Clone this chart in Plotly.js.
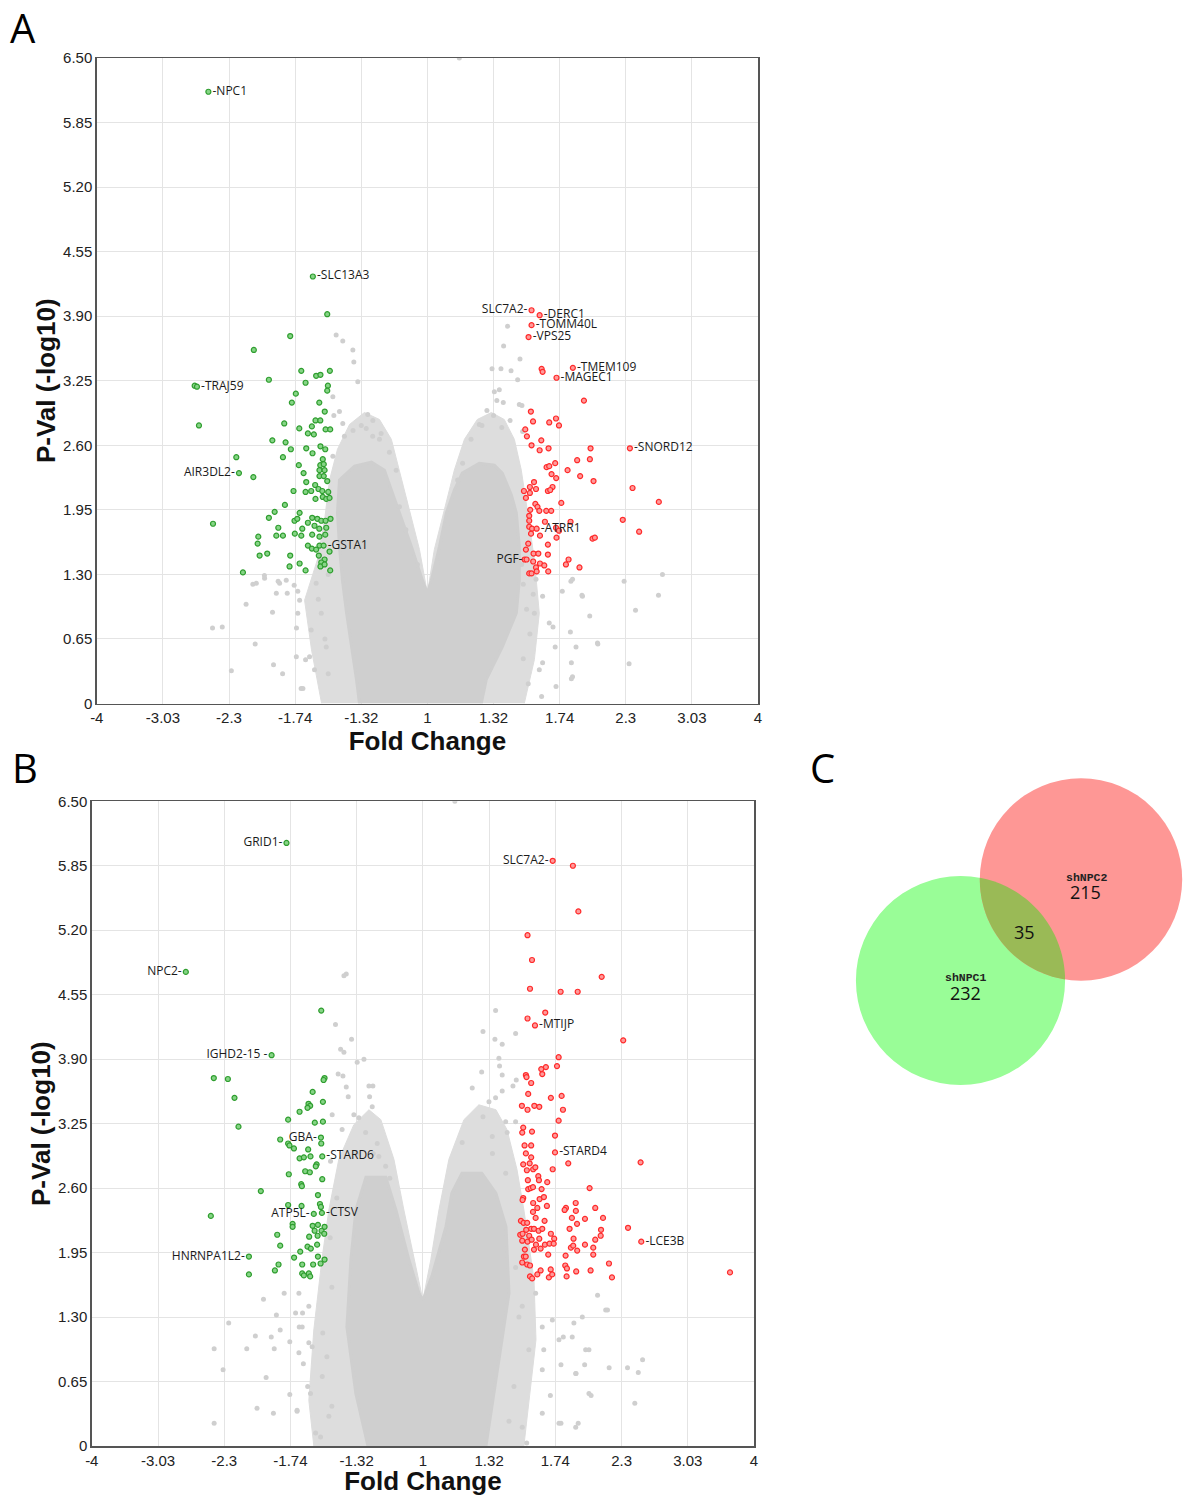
<!DOCTYPE html>
<html><head><meta charset="utf-8">
<script src="https://cdn.plot.ly/plotly-3.0.1.min.js"></script>
<style>html,body{margin:0;padding:0;background:#fff}#chart{width:1183px;height:1496px}</style>
</head><body><div id="chart"></div>
<script>
// ---------- axis ticks (x axis is log2 fold change, labelled as fold change) ----------
const xTickVals = [-2, -1.6, -1.2, -0.8, -0.4, 0, 0.4, 0.8, 1.2, 1.6, 2];
const xTickText = ['-4', '-3.03', '-2.3', '-1.74', '-1.32', '1', '1.32', '1.74', '2.3', '3.03', '4'];
const yTickVals = [0, 0.65, 1.3, 1.95, 2.6, 3.25, 3.9, 4.55, 5.2, 5.85, 6.5];
const yTickText = ['0', '0.65', '1.30', '1.95', '2.60', '3.25', '3.90', '4.55', '5.20', '5.85', '6.50'];

// ---------- Panel A ----------
// envelope of the thinly scattered non-significant genes
const outerA_fc = [-0.640,-0.701,-0.743,-0.665,-0.622,-0.592,-0.544,-0.471,-0.381,-0.290,-0.218,-0.169,-0.109,-0.048,0,0.042,0.103,0.163,0.224,0.302,0.387,0.465,0.526,0.568,0.604,0.647,0.677,0.647,0.586];
const outerA_p  = [0,0.54,1.04,1.45,1.85,2.25,2.56,2.81,2.93,2.86,2.66,2.35,1.95,1.55,1.11,1.55,1.95,2.35,2.66,2.86,2.93,2.86,2.66,2.35,1.95,1.45,0.91,0.44,0];
// envelope of the dense non-significant core
const coreA_fc = [-0.411,-0.429,-0.489,-0.514,-0.532,-0.544,-0.532,-0.441,-0.338,-0.260,-0.218,-0.169,-0.097,-0.030,0,0.024,0.073,0.115,0.163,0.211,0.314,0.405,0.453,0.508,0.538,0.556,0.556,0.538,0.453,0.356,0.326];
const coreA_p  = [0,0.24,0.91,1.24,1.58,1.92,2.25,2.39,2.43,2.35,2.15,1.92,1.58,1.24,1.11,1.24,1.58,1.92,2.15,2.32,2.42,2.40,2.32,2.10,1.92,1.58,1.24,0.91,0.57,0.24,0];
// scattered non-significant genes
const grayA_fc = [
-0.552,-0.512,-0.451,-0.445,-0.421,-0.532,-0.361,-0.512,-0.331,-0.572,
-0.502,-0.572,-0.230,-0.189,-0.169,-0.566,-0.370,-0.290,-0.40,-0.33,
-0.45,-0.28,
-1.035,-0.985,-0.854,-0.894,-0.784,-0.914,
-0.753,-0.683,-0.703,-0.793,-0.773,-0.673,-0.784,-0.642,-0.713,-0.612,
-1.300,-1.241,-1.186,-1.042,-1.097,-1.056,-0.986,-0.937,-0.931,-0.876,
-0.848,-0.903,-0.806,-0.792,-0.764,-0.737,
-0.62,-0.60,-0.63,-0.60,-0.66,-0.62,-0.60,-0.65,
-0.06,0.06,-0.13,0.12,
0.485,0.461,0.560,0.391,0.445,0.506,0.546,0.435,0.405,0.556,
0.572,0.459,0.314,0.264,0.213,0.183,0.576,0.33,0.40,0.45,
0.36,0.50,0.42,
1.422,1.398,1.190,0.935,0.868,
0.657,0.697,0.737,0.878,0.899,0.938,1.029,0.778,0.697,0.878,0.647,
1.259,1.220,1.031,0.871,0.871,0.982,0.865,0.816,0.773,0.760,0.677,0.691,
0.58,0.60,0.62,0.58,0.61,0.64,0.57,
0.193];
const grayA_p = [
3.71,3.65,3.56,3.44,3.24,2.94,2.91,2.82,2.69,3.09,
2.69,2.49,2.53,2.35,1.98,2.90,2.77,2.66,2.80,2.85,
2.75,2.72,
1.21,1.26,1.24,1.21,1.13,1.11,
0.15,0.34,0.74,0.47,1.04,1.21,0.91,0.91,0.47,0.57,
0.76,0.77,0.33,0.60,1.00,1.20,1.29,0.92,0.39,0.30,
1.11,1.23,1.19,0.76,0.15,0.44,
1.70,2.05,2.30,1.30,1.05,0.65,0.30,1.45,
1.40,1.42,1.75,1.80,
3.80,3.60,3.47,3.37,3.37,3.35,3.26,3.16,3.14,3.01,
3.00,3.03,2.81,2.66,2.42,2.25,2.74,2.80,2.90,2.78,
2.95,2.85,3.05,
1.30,1.09,1.23,1.09,1.23,
1.25,1.08,0.81,0.27,0.57,1.08,0.61,0.17,0.41,1.25,0.91,
0.94,0.40,0.60,0.41,0.25,0.88,0.72,1.13,0.57,0.77,0.34,0.07,
1.20,0.95,0.70,0.45,0.20,1.10,1.40,
6.5];
// down-regulated (green)
const downA_fc = [
-0.606,-0.830,-1.050,-0.763,-0.673,-0.647,-0.590,-0.959,-1.408,-0.737,
-0.602,-0.606,-0.796,-0.820,-0.654,-0.621,-1.382,-0.866,-0.775,-0.677,
-0.648,-0.699,-0.616,-0.588,-0.723,-0.687,-0.938,-0.858,-0.826,-0.733,
-0.695,-0.647,-0.618,-1.156,-0.874,-0.633,-0.778,-0.648,-0.627,-0.749,
-0.653,-0.622,-1.053,-0.733,-0.653,-0.627,-0.606,-0.810,-0.737,-0.703,
-0.679,-0.659,-0.636,-0.600,-0.677,-0.633,-0.612,-0.592,-0.862,-0.924,
-0.959,-0.804,-0.773,-0.787,-0.697,-0.666,-0.642,-0.616,-0.586,-1.297,
-0.723,-0.902,-0.757,-0.683,-0.654,-0.612,-0.802,-0.914,-0.874,-0.763,
-0.697,-0.653,-0.618,-1.023,-1.027,-0.723,-0.699,-0.653,-0.673,-0.592,
-1.015,-0.969,-0.830,-0.657,-0.622,-0.642,-0.834,-0.773,-0.647,-0.622,
-0.737,-0.588,-1.116];
const downA_p = [
3.92,3.70,3.56,3.35,3.30,3.31,3.35,3.26,3.20,3.23,
3.20,3.15,3.12,3.03,3.03,2.94,2.80,2.82,2.77,2.85,
2.85,2.79,2.76,2.76,2.72,2.71,2.65,2.63,2.56,2.57,
2.52,2.59,2.56,2.48,2.48,2.46,2.40,2.40,2.41,2.32,
2.35,2.35,2.28,2.23,2.29,2.29,2.24,2.14,2.13,2.14,
2.20,2.16,2.14,2.13,2.06,2.08,2.06,2.07,2.00,1.93,
1.87,1.84,1.92,1.86,1.87,1.86,1.84,1.84,1.86,1.81,
1.82,1.77,1.76,1.79,1.76,1.77,1.71,1.69,1.69,1.69,
1.70,1.68,1.70,1.68,1.61,1.59,1.56,1.59,1.55,1.53,
1.49,1.51,1.49,1.49,1.45,1.42,1.38,1.41,1.38,1.40,
1.34,1.34,1.32];
// up-regulated (red)
const upA_fc = [
0.691,0.697,0.947,0.626,0.639,0.737,0.778,0.796,0.592,0.602,
0.689,0.630,0.679,0.733,0.987,0.906,0.983,0.721,0.737,0.773,
0.848,0.751,0.779,0.924,1.005,1.241,0.584,0.620,0.645,0.657,
0.620,0.596,0.729,0.757,0.743,1.400,0.653,0.666,0.810,0.622,
0.677,0.719,0.749,0.616,0.616,0.711,1.182,0.866,0.616,0.633,
1.281,0.778,0.796,0.627,0.681,0.781,0.999,1.013,0.610,0.729,
0.596,0.642,0.671,0.729,0.588,0.640,0.681,0.854,0.838,0.657,
0.707,0.920,0.616,0.630,0.661,0.731];
const upA_p = [
3.37,3.34,3.05,2.94,2.84,2.83,2.87,2.80,2.76,2.69,
2.65,2.60,2.55,2.57,2.57,2.45,2.46,2.38,2.39,2.42,
2.35,2.31,2.27,2.29,2.24,2.17,2.14,2.18,2.23,2.16,
2.12,2.07,2.14,2.18,2.15,2.03,2.01,1.98,2.02,1.95,
1.94,1.94,1.94,1.89,1.84,1.83,1.85,1.83,1.78,1.76,
1.73,1.77,1.74,1.71,1.69,1.67,1.66,1.67,1.61,1.60,
1.55,1.51,1.51,1.50,1.45,1.43,1.41,1.45,1.40,1.37,
1.39,1.37,1.31,1.31,1.33,1.33];
// labelled genes
const labelA_gene = ['NPC1','SLC13A3','TRAJ59','AIR3DL2','GSTA1','SLC7A2','DERC1','TOMM40L','VPS25','TMEM109','MAGEC1','SNORD12','ATRR1','PGF'];
const labelA_fc   = [-1.325,-0.693,-1.394,-1.140,-0.628,0.630,0.679,0.630,0.612,0.880,0.781,1.225,0.661,0.600];
const labelA_p    = [6.16,4.30,3.19,2.32,1.59,3.96,3.91,3.81,3.69,3.38,3.28,2.57,1.76,1.45];
const labelA_side = ['right','right','right','left','right','left','right','right','right','right','right','right','right','left'];

// ---------- Panel B ----------
const outerB_fc = [-0.659,-0.689,-0.659,-0.610,-0.568,-0.508,-0.417,-0.326,-0.254,-0.175,-0.115,-0.054,0,0.048,0.097,0.157,0.248,0.338,0.441,0.508,0.568,0.610,0.671,0.683,0.640,0.610];
const outerB_p  = [0,0.46,1.17,1.88,2.38,2.89,3.24,3.39,3.29,2.89,2.38,1.88,1.47,1.88,2.38,2.89,3.29,3.44,3.39,3.19,2.79,2.38,1.68,1.07,0.46,0];
const coreB_fc = [-0.332,-0.405,-0.459,-0.435,-0.405,-0.344,-0.224,-0.163,-0.085,-0.024,0,0.054,0.139,0.175,0.236,0.356,0.441,0.502,0.520,0.459,0.381];
const coreB_p  = [0,0.53,1.20,1.88,2.38,2.71,2.71,2.38,1.88,1.54,1.47,1.71,2.21,2.55,2.75,2.75,2.55,2.21,1.54,0.87,0];
const grayB_fc = [
-0.463,-0.477,-0.528,-0.431,-0.497,-0.477,-0.356,-0.397,-0.512,-0.483,
-0.463,-0.326,-0.302,-0.451,-0.322,-0.306,-0.548,-0.417,-0.387,-0.488,
-0.346,-0.276,-0.558,-0.266,-0.225,
0.439,0.363,0.435,0.479,0.560,0.459,0.463,0.355,0.479,0.564,
0.298,0.479,0.544,0.399,0.439,0.363,0.500,0.560,0.237,0.419,
0.509,
0.600,0.681,0.721,0.822,0.902,0.963,0.983,1.104,0.923,1.003,
0.721,0.822,0.923,0.600,0.721,0.640,
-0.769,-0.729,-0.749,-0.689,-0.679,-0.760,-0.648,-0.608,-0.568,-0.749,-0.689,
-1.261,-1.261,-1.207,-1.173,-1.064,-1.012,-1.002,-0.963,-0.947,-0.916,
-0.898,-0.903,-0.885,-0.862,-0.838,-0.804,-0.804,-0.760,-0.747,-0.727,
-0.722,-0.696,-0.669,-0.605,-0.618,
1.327,1.301,1.236,1.280,1.125,1.115,1.055,1.003,0.977,1.016,
0.925,0.912,0.938,0.834,0.834,0.848,0.782,0.770,0.730,0.627,
-0.55,-0.56,-0.52,-0.58,-0.55,0.56,0.58,0.55,0.52,0.50,0.42,-0.40,-0.30,-0.20,
0.193];
const grayB_p = [
4.76,4.74,4.25,4.10,4.00,3.97,3.90,3.87,3.75,3.73,
3.62,3.63,3.63,3.52,3.52,3.42,3.34,3.34,3.31,3.19,
3.16,3.05,2.87,2.92,2.82,
4.39,4.18,4.10,4.05,4.16,3.91,3.83,3.77,3.74,3.69,
3.61,3.58,3.63,3.47,3.51,3.32,3.27,3.27,3.06,3.12,
3.16,
1.41,1.54,1.20,1.07,1.10,1.30,0.97,1.37,0.73,0.53,
0.33,0.23,0.19,0.19,0.77,0.97,
1.34,1.20,0.94,1.04,0.53,0.36,0.13,0.70,0.30,1.54,1.41,
0.98,0.23,0.77,1.24,0.98,1.11,0.38,1.48,0.69,1.10,
0.98,0.33,1.32,1.17,1.54,0.52,1.05,0.35,1.20,1.34,
0.83,0.60,1.00,1.14,0.09,
0.87,0.74,0.79,0.43,0.79,1.37,1.52,0.97,0.82,0.51,
0.73,1.24,0.23,0.82,0.23,1.10,1.27,0.51,0.97,0.03,
1.6,2.1,2.5,0.9,0.4,1.8,1.3,0.6,0.25,2.75,2.95,2.95,2.95,2.70,
6.5];
const downB_fc = [
-0.614,-1.263,-1.178,-1.138,-1.114,-0.594,-0.600,-0.666,-0.604,-0.691,
-0.681,-0.745,-0.697,-0.814,-0.653,-0.604,-0.862,-0.814,-0.806,-0.779,
-0.693,-0.614,-0.745,-0.719,-0.679,-0.642,-0.647,-0.810,-0.711,-0.683,
-0.608,-0.735,-0.731,-0.979,-1.281,-0.634,-0.814,-0.733,-0.622,-0.616,
-0.787,-0.787,-0.666,-0.654,-0.634,-0.612,-0.594,-0.636,-0.596,-0.880,
-0.687,-0.862,-0.639,-0.697,-0.677,-0.741,-0.778,-0.634,-0.594,-0.872,
-0.729,-0.663,-0.618,-0.894,-1.051,-0.729,-0.719,-0.689,-0.681];
const downB_p = [
4.39,3.71,3.70,3.51,3.22,3.71,3.69,3.57,3.47,3.45,
3.43,3.37,3.41,3.29,3.26,3.27,3.09,3.05,3.03,3.00,
2.99,3.05,2.90,2.91,2.92,2.84,2.82,2.74,2.77,2.76,
2.69,2.64,2.62,2.57,2.32,2.53,2.43,2.42,2.44,2.41,
2.24,2.21,2.22,2.17,2.23,2.17,2.21,2.12,2.14,2.13,
2.11,2.02,2.03,2.01,1.99,1.96,1.90,1.91,1.88,1.83,
1.83,1.83,1.84,1.77,1.73,1.74,1.72,1.74,1.71];
const upB_fc = [
0.906,0.939,0.632,0.659,1.080,0.647,0.832,0.935,0.739,0.632,
1.210,0.820,0.810,0.715,0.743,0.721,0.622,0.626,0.654,0.636,
0.773,0.838,0.598,0.632,0.673,0.703,0.846,0.820,0.606,0.600,
0.659,0.798,0.614,0.654,0.622,0.654,1.315,0.606,0.645,0.878,
0.784,0.628,0.666,0.679,0.697,0.701,0.751,0.634,0.636,0.651,
0.665,0.717,1.007,0.606,0.602,0.705,0.731,0.666,0.749,0.864,
0.856,0.923,0.924,1.041,0.691,0.665,0.592,0.608,0.630,0.681,
0.735,0.900,0.931,0.979,1.088,0.624,0.654,0.671,0.699,0.721,
0.886,1.076,1.239,0.588,0.602,0.642,0.773,1.074,0.600,0.632,
0.657,0.703,0.793,0.910,1.041,0.683,0.737,0.765,0.790,0.894,
0.908,0.979,1.029,0.932,0.616,0.671,0.711,0.610,0.621,0.757,
0.862,1.029,0.600,0.630,0.647,0.860,1.124,0.711,0.772,0.870,
0.926,1.013,0.647,0.660,0.691,0.761,0.781,0.868,1.142,1.855];
const upB_p = [
5.85,5.39,5.15,4.90,4.73,4.61,4.58,4.58,4.37,4.31,
4.09,3.92,3.83,3.80,3.82,3.75,3.74,3.72,3.66,3.55,
3.51,3.53,3.43,3.39,3.43,3.42,3.39,3.28,3.21,3.16,
3.17,3.13,3.03,3.03,2.95,2.91,2.86,2.84,2.85,2.85,
2.79,2.78,2.79,2.81,2.72,2.68,2.66,2.68,2.59,2.60,
2.61,2.59,2.60,2.50,2.48,2.49,2.51,2.45,2.42,2.40,
2.38,2.45,2.37,2.40,2.40,2.36,2.27,2.25,2.25,2.30,
2.27,2.30,2.24,2.29,2.30,2.18,2.19,2.19,2.17,2.19,
2.19,2.18,2.20,2.13,2.14,2.12,2.14,2.12,2.07,2.06,
2.08,2.09,2.09,2.09,2.08,2.03,2.03,2.04,2.04,2.00,
2.02,2.03,2.00,1.97,1.98,1.98,1.99,1.91,1.91,1.93,
1.92,1.93,1.85,1.83,1.82,1.82,1.84,1.77,1.78,1.79,
1.76,1.77,1.71,1.69,1.73,1.70,1.73,1.71,1.70,1.75];
const labelB_gene = ['GRID1','NPC2','IGHD2-15 ','GBA','STARD6','ATP5L','CTSV','HNRNPA1L2','SLC7A2','MTIJP','STARD4','LCE3B'];
const labelB_fc   = [-0.824,-1.432,-0.914,-0.616,-0.608,-0.659,-0.610,-1.051,0.784,0.677,0.798,1.319];
const labelB_p    = [6.08,4.78,3.94,3.11,2.92,2.34,2.35,1.91,5.90,4.24,2.96,2.06];
const labelB_side = ['left','left','left','left','right','left','right','left','left','right','right','right'];

// ---------- Panel C (Venn) ----------
const vennSets = ['shNPC1', 'shNPC2'];
const vennOnly = [232, 215];
const vennShared = 35;

// ---------- styles ----------
const GRAY = '#cfcfcf', GRAY_LIGHT = '#dddddd';
const GREEN_FILL = '#86d486', GREEN_LINE = '#2f9e2f';
const RED_FILL = '#ff9a9a', RED_LINE = '#ff2a2a';
const TICKFONT = {family: 'Liberation Sans, Arial, sans-serif', size: 15, color: '#222'};
const TITLEFONT = {family: 'Liberation Sans, Arial, sans-serif', size: 26, color: '#111', weight: 'bold'};
const LABELFONT = {family: 'Open Sans, Noto Sans, sans-serif', size: 12, color: '#1a1a1a'};

function panelTraces(xa, ya, outer_fc, outer_p, core_fc, core_p, gray_fc, gray_p, down_fc, down_p, up_fc, up_p, lg, lfc, lp, lside) {
  return [
    {type: 'scatter', mode: 'lines', x: outer_fc, y: outer_p, xaxis: xa, yaxis: ya, fill: 'toself',
     fillcolor: GRAY_LIGHT, line: {color: GRAY_LIGHT, width: 1}, hoverinfo: 'skip'},
    {type: 'scatter', mode: 'lines', x: core_fc, y: core_p, xaxis: xa, yaxis: ya, fill: 'toself',
     fillcolor: GRAY, line: {color: GRAY, width: 3}, hoverinfo: 'skip'},
    {type: 'scatter', mode: 'markers', x: gray_fc, y: gray_p, xaxis: xa, yaxis: ya,
     marker: {size: 5, color: GRAY}, hoverinfo: 'skip'},
    {type: 'scatter', mode: 'markers', x: down_fc, y: down_p, xaxis: xa, yaxis: ya,
     marker: {size: 5, color: GREEN_FILL, line: {color: GREEN_LINE, width: 1.2}}},
    {type: 'scatter', mode: 'markers', x: up_fc, y: up_p, xaxis: xa, yaxis: ya,
     marker: {size: 5, color: RED_FILL, line: {color: RED_LINE, width: 1.2}}},
    {type: 'scatter', mode: 'markers+text', x: lfc, y: lp, xaxis: xa, yaxis: ya,
     text: lg.map((g, i) => lside[i] === 'right' ? '-' + g : g + '-'),
     textposition: lside.map(s => 'middle ' + s),
     textfont: LABELFONT, cliponaxis: false,
     marker: {size: 5,
       color: lfc.map(v => v < 0 ? GREEN_FILL : RED_FILL),
       line: {color: lfc.map(v => v < 0 ? GREEN_LINE : RED_LINE), width: 1.2}}}
  ];
}

const traces = [].concat(
  panelTraces('x', 'y', outerA_fc, outerA_p, coreA_fc, coreA_p, grayA_fc, grayA_p, downA_fc, downA_p, upA_fc, upA_p, labelA_gene, labelA_fc, labelA_p, labelA_side),
  panelTraces('x2', 'y2', outerB_fc, outerB_p, coreB_fc, coreB_p, grayB_fc, grayB_p, downB_fc, downB_p, upB_fc, upB_p, labelB_gene, labelB_fc, labelB_p, labelB_side)
);

function xAxis(domain, anchor) {
  return {domain: domain, anchor: anchor, range: [-2, 2], tickvals: xTickVals, ticktext: xTickText,
    showgrid: true, gridcolor: '#e4e4e4', gridwidth: 1, zeroline: false, showline: true, mirror: true,
    linecolor: '#555', linewidth: 1.5, ticks: '', tickfont: TICKFONT, fixedrange: true, layer: 'above traces',
    title: {text: 'Fold Change', font: TITLEFONT, standoff: 4}};
}
function yAxis(domain, anchor) {
  return {domain: domain, anchor: anchor, range: [0, 6.5], tickvals: yTickVals, ticktext: yTickText,
    showgrid: true, gridcolor: '#e4e4e4', gridwidth: 1, zeroline: false, showline: true, mirror: true,
    linecolor: '#555', linewidth: 1.5, ticks: '', tickfont: TICKFONT, fixedrange: true, layer: 'above traces',
    title: {text: 'P-Val (-log10)', font: TITLEFONT, standoff: 0}};
}

// Venn geometry (hidden axes in pixel-like units)
const VENN_K = 6.4;
const C1 = [960.5, 980.5], C2 = [1081, 879.5];
const n1 = vennOnly[0] + vennShared, n2 = vennOnly[1] + vennShared;
const R1 = VENN_K * Math.sqrt(n1), R2 = VENN_K * Math.sqrt(n2);
const dx = C2[0] - C1[0], dy = C2[1] - C1[1], D = Math.hypot(dx, dy);
const phi12 = Math.atan2(dy, dx), phi21 = phi12 + Math.PI;
const a1 = Math.acos((R1 * R1 + D * D - R2 * R2) / (2 * R1 * D));
const a2 = Math.acos((R2 * R2 + D * D - R1 * R1) / (2 * R2 * D));
let lens = [];
for (let i = 0; i <= 40; i++) { const t = -a1 + 2 * a1 * i / 40; lens.push([C1[0] + R1 * Math.cos(phi12 + t), C1[1] + R1 * Math.sin(phi12 + t)]); }
for (let i = 0; i <= 40; i++) { const t = -a2 + 2 * a2 * i / 40; lens.push([C2[0] + R2 * Math.cos(phi21 + t), C2[1] + R2 * Math.sin(phi21 + t)]); }
const lensPath = 'M' + lens.map(p => p[0].toFixed(2) + ',' + p[1].toFixed(2)).join('L') + 'Z';
const ux = dx / D, uy = dy / D;
const lensMid = [((C2[0] - R2 * ux) + (C1[0] + R1 * ux)) / 2, ((C2[1] - R2 * uy) + (C1[1] + R1 * uy)) / 2];

traces.push({type: 'scatter', mode: 'markers', x: [C1[0], C2[0]], y: [C1[1], C2[1]], xaxis: 'x3', yaxis: 'y3',
  marker: {size: 1, color: 'rgba(0,0,0,0)'}, hoverinfo: 'skip'});

const shapes = [
  {type: 'circle', xref: 'x3', yref: 'y3', x0: C1[0] - R1, x1: C1[0] + R1, y0: C1[1] - R1, y1: C1[1] + R1,
   fillcolor: '#99fd97', line: {width: 0}, layer: 'below'},
  {type: 'circle', xref: 'x3', yref: 'y3', x0: C2[0] - R2, x1: C2[0] + R2, y0: C2[1] - R2, y1: C2[1] + R2,
   fillcolor: '#fe9795', line: {width: 0}, layer: 'below'},
  {type: 'path', xref: 'x3', yref: 'y3', path: lensPath, fillcolor: '#9aba56', line: {width: 0}, layer: 'below'}
];

const SETFONT = {family: 'Liberation Mono, DejaVu Sans Mono, monospace', size: 11.5, color: '#222', weight: 'bold'};
const NUMFONT = {family: 'Open Sans, Noto Sans, sans-serif', size: 18, color: '#111'};
const LETTERFONT = {family: 'Open Sans, sans-serif', size: 40, color: '#000'};
const annotations = [
  {xref: 'paper', yref: 'paper', x: 8 / 1183, y: 1 - 27 / 1496, xanchor: 'left', yanchor: 'middle', text: 'A', showarrow: false, font: LETTERFONT},
  {xref: 'paper', yref: 'paper', x: 10 / 1183, y: 1 - 767 / 1496, xanchor: 'left', yanchor: 'middle', text: 'B', showarrow: false, font: LETTERFONT},
  {xref: 'paper', yref: 'paper', x: 808 / 1183, y: 1 - 767 / 1496, xanchor: 'left', yanchor: 'middle', text: 'C', showarrow: false, font: LETTERFONT},
  {xref: 'x3', yref: 'y3', x: C1[0] + 5.5, y: C1[1] - 3.5, text: vennSets[0], showarrow: false, font: SETFONT},
  {xref: 'x3', yref: 'y3', x: C1[0] + 4.5, y: C1[1] + 12.5, text: String(vennOnly[0]), showarrow: false, font: NUMFONT},
  {xref: 'x3', yref: 'y3', x: C2[0] + 6, y: C2[1] - 2.5, text: vennSets[1], showarrow: false, font: SETFONT},
  {xref: 'x3', yref: 'y3', x: C2[0] + 4, y: C2[1] + 12.5, text: String(vennOnly[1]), showarrow: false, font: NUMFONT},
  {xref: 'x3', yref: 'y3', x: lensMid[0] + 2, y: lensMid[1] + 3, text: String(vennShared), showarrow: false, font: NUMFONT}
];

const layout = {
  width: 1183, height: 1496, margin: {l: 0, r: 0, t: 0, b: 0},
  paper_bgcolor: '#fff', plot_bgcolor: '#fff', showlegend: false,
  xaxis: xAxis([96.8 / 1183, 758 / 1183], 'y'),
  yaxis: yAxis([1 - 703.5 / 1496, 1 - 58 / 1496], 'x'),
  xaxis2: xAxis([91.8 / 1183, 754 / 1183], 'y2'),
  yaxis2: yAxis([1 - 1446 / 1496, 1 - 801.3 / 1496], 'x2'),
  xaxis3: {domain: [820 / 1183, 1], anchor: 'y3', range: [820, 1183], visible: false, fixedrange: true},
  yaxis3: {domain: [1 - 1120 / 1496, 1 - 740 / 1496], anchor: 'x3', range: [1120, 740], visible: false, fixedrange: true},
  shapes: shapes,
  annotations: annotations
};

Plotly.newPlot('chart', traces, layout, {displayModeBar: false, staticPlot: true});
</script></body></html>
